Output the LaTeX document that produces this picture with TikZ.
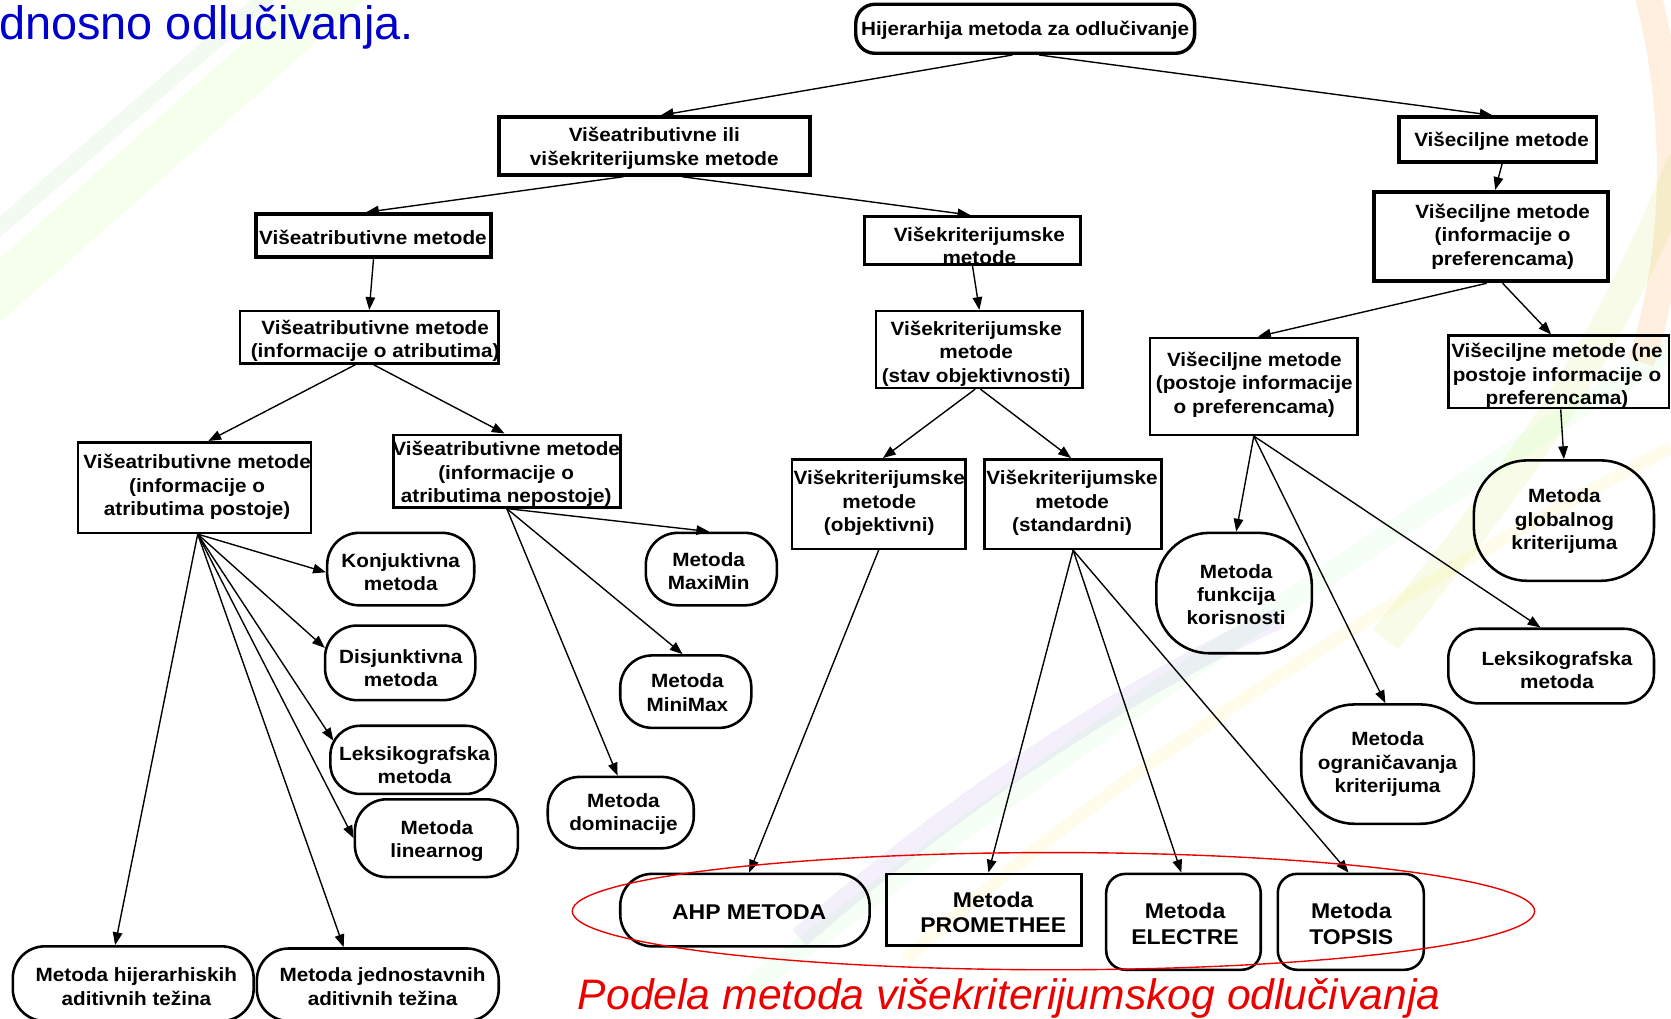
\documentclass[tikz,border=0pt]{standalone}
\usepackage{fontspec}
\setmainfont{Liberation Sans}
\newfontfamily\bfont[FakeStretch=1.08]{Liberation Sans Bold}
\usetikzlibrary{arrows.meta}
\definecolor{tblue}{RGB}{0,0,205}
\definecolor{tred}{RGB}{235,0,0}
\newcommand\mkbx[9]{\node[#1, minimum width=#5pt, minimum height=#6pt] (#2) at (#3,#4) {}; \node[lbl] (#2t) at (#7,#8) {#9};}
\begin{document}
\begin{tikzpicture}[x=1pt,y=-1pt,
 lbl/.style={font={\bfont\fontsize{18}{22}\selectfont}, align=center, inner sep=0pt},
 lblL/.style={font={\bfont\fontsize{20}{24}\selectfont}, align=center, inner sep=0pt},
 box/.style={draw, line width=2.4pt, inner sep=0pt},
 tbox/.style={draw, line width=3.6pt, inner sep=0pt},
 rbox/.style={draw, line width=2.4pt, inner sep=0pt, rounded corners=#1},
 arr/.style={-{Triangle[length=12pt,width=9pt]}, line width=1.3pt},
]
\useasboundingbox (0,0) rectangle (1568,956);
% background streaks
\begin{scope}
\clip (0,0) rectangle (1568,956);
\draw[line width=45pt, green!50!yellow, opacity=0.08] (-20,290) -- (330,-20);
\draw[line width=15pt, green!60!black, opacity=0.05] (-20,230) -- (270,-20);
\draw[line width=25pt, orange, opacity=0.13] (1545,-10) .. controls (1580,120) and (1570,250) .. (1540,340);
\draw[line width=30pt, yellow!70!green, opacity=0.10] (1580,150) .. controls (1500,350) and (1420,450) .. (1300,600);
\draw[line width=20pt, green!50, opacity=0.08] (1580,320) .. controls (1300,500) and (1000,700) .. (700,930);
\draw[line width=20pt, blue!50!violet, opacity=0.06] (1200,580) .. controls (1050,650) and (900,750) .. (750,880);
\draw[line width=12pt, yellow!80!orange, opacity=0.08] (1568,420) .. controls (1300,560) and (1050,720) .. (850,900);
\end{scope}

\node[anchor=base west, font=\fontsize{44}{50}\selectfont, text=tblue, inner sep=0pt] (hdr) at (-1,37) {dnosno odlučivanja.};

\mkbx{rbox=18pt, line width=3.2pt}{root}{962}{27}{318}{46}{962}{28}{Hijerarhija metoda za odlučivanje}
\mkbx{tbox}{mc}{614}{137}{292}{54}{614}{139}{Višeatributivne ili\\višekriterijumske metode}
\mkbx{tbox}{vc}{1405.5}{131}{185}{42}{1409}{133}{Višeciljne metode}
\mkbx{tbox}{va}{350.5}{221}{221}{40}{350}{223}{Višeatributivne metode}
\mkbx{box}{vk}{912.5}{225.5}{203}{45}{919}{231}{Višekriterijumske\\metode}
\mkbx{tbox}{vcpi}{1399}{222}{220}{84}{1410}{222}{Višeciljne metode\\(informacije o\\preferencama)}
\mkbx{box}{vai}{346.5}{316.5}{243}{49}{352}{320}{Višeatributivne metode\\(informacije o atributima)}
\mkbx{box}{vks}{919}{328}{194}{72}{916}{332}{Višekriterijumske\\metode\\(stav objektivnosti)}
\mkbx{box}{vcp}{1176.5}{362.5}{195}{91}{1177}{361}{Višeciljne metode\\(postoje informacije\\o preferencama)}
\mkbx{box}{vcn}{1462.5}{349}{207}{68}{1461}{353}{Višeciljne metode (ne\\postoje informacije o\\preferencama)}
\mkbx{box}{vap}{182.5}{457.5}{219}{85}{185}{457}{Višeatributivne metode\\(informacije o\\atributima postoje)}
\mkbx{box}{van}{475.5}{442}{213}{68}{475}{445}{Višeatributivne metode\\(informacije o\\atributima nepostoje)}
\mkbx{box}{vko}{824.5}{473}{163}{84}{825}{472}{Višekriterijumske\\metode\\(objektivni)}
\mkbx{box}{vkst}{1007}{473}{166}{84}{1006}{472}{Višekriterijumske\\metode\\(standardni)}

\mkbx{rbox=30pt}{konj}{376}{534}{138}{68}{376}{537}{Konjuktivna\\metoda}
\mkbx{rbox=30pt}{disj}{375.5}{622}{141}{70}{376}{627}{Disjunktivna\\metoda}
\mkbx{rbox=28pt}{leks1}{387.5}{713}{155}{64}{389}{718}{Leksikografska\\metoda}
\mkbx{rbox=30pt}{lin}{409.5}{786.5}{153}{73}{410}{789}{Metoda\\linearnog}
\mkbx{rbox=30pt}{hij}{125}{923}{226}{70}{128}{926}{Metoda hijerarhiskih\\aditivnih težina}
\mkbx{rbox=30pt}{jed}{354.5}{924}{227}{68}{359}{926}{Metoda jednostavnih\\aditivnih težina}
\mkbx{rbox=30pt}{maxi}{667.5}{534}{123}{68}{665}{536}{Metoda\\MaxiMin}
\mkbx{rbox=30pt}{mini}{643.5}{649}{123}{68}{645}{650}{Metoda\\MiniMax}
\mkbx{rbox=30pt}{dom}{582.5}{762.5}{137}{67}{585}{764}{Metoda\\dominacije}
\mkbx{rbox=50pt}{fk}{1158}{556.5}{146}{113}{1160}{558}{Metoda\\funkcija\\korisnosti}
\mkbx{rbox=50pt}{ogr}{1302}{717}{162}{112}{1302}{717}{Metoda\\ograničavanja\\kriterijuma}
\mkbx{rbox=50pt}{glob}{1467.5}{488.5}{169}{113}{1468}{489}{Metoda\\globalnog\\kriterijuma}
\mkbx{rbox=28pt}{leks2}{1455.5}{625}{193}{70}{1461}{629}{Leksikografska\\metoda}

\node[rbox=30pt, minimum width=234pt, minimum height=68pt] (ahp) at (699,854) {};
\node[lblL] (ahpt) at (703,856) {AHP METODA};
\node[box, minimum width=183pt, minimum height=67pt] (prom) at (923.5,853.5) {};
\node[lblL] (promt) at (932,856) {Metoda\\PROMETHEE};
\node[rbox=18pt, minimum width=145pt, minimum height=90pt] (elec) at (1110.5,865) {};
\node[lblL] (elect) at (1112,867) {Metoda\\ELECTRE};
\node[rbox=18pt, minimum width=137pt, minimum height=90pt] (tops) at (1267.5,865) {};
\node[lblL] (topst) at (1268,867) {Metoda\\TOPSIS};

% connectors
\draw[arr] ([xshift=-12pt]root.south) -- ([xshift=6pt]mc.north);
\draw[arr] ([xshift=13pt]root.south) -- ([xshift=-5pt]vc.north);
\draw[arr] ([xshift=-29pt]mc.south) -- ([xshift=-7pt]va.north);
\draw[arr] ([xshift=26pt]mc.south) -- ([xshift=-2pt]vk.north);
\draw[arr] (va.south) -- (vai.north);
\draw[arr] (vk.south) -- (vks.north);
\draw[arr] ([xshift=4pt]vc.south) -- ([xshift=4pt]vcpi.north);
\draw[arr] ([xshift=-4pt]vcpi.south) -- ([xshift=4pt]vcp.north);
\draw[arr] ([xshift=11pt]vcpi.south) -- ([xshift=-7pt]vcn.north);
\draw[arr] ([xshift=-13pt]vai.south) -- ([xshift=13pt]vap.north);
\draw[arr] ([xshift=4pt]vai.south) -- ([xshift=-2pt]van.north);
\draw[arr] ([xshift=-4pt]vks.south) -- ([xshift=4pt]vko.north);
\draw[arr] ([xshift=1pt]vks.south) -- ([xshift=-2pt]vkst.north);
\draw[arr] ([xshift=2pt]vcn.south) -- (glob.north);
\draw[arr] (vcp.south) -- ([xshift=2pt]fk.north);
\draw[arr] (vcp.south) -- ([xshift=-2pt]ogr.north);
\draw[arr] (vcp.south) -- ([xshift=-10pt]leks2.north);
\draw[arr] ([xshift=3pt]vap.south) -- ([yshift=-3pt]konj.west);
\draw[arr] ([xshift=3pt]vap.south) -- ([yshift=14pt,xshift=1pt]disj.west);
\draw[arr] ([xshift=3pt]vap.south) -- ([yshift=18pt,xshift=4pt]leks1.west);
\draw[arr] ([xshift=3pt]vap.south) -- (lin.west);
\draw[arr] ([xshift=3pt]vap.south) -- ([xshift=-17pt]hij.north);
\draw[arr] ([xshift=3pt]vap.south) -- ([xshift=-32pt]jed.north);
\draw[arr] (van.south) -- ([xshift=-2pt]maxi.north);
\draw[arr] (van.south) -- ([xshift=-3pt]mini.north);
\draw[arr] (van.south) -- ([xshift=-3pt]dom.north);
\draw[arr] (vko.south) -- ([xshift=4pt]ahp.north);
\draw[arr] (vkst.south) -- ([xshift=4pt]prom.north);
\draw[arr] (vkst.south) -- ([xshift=-2pt]elec.north);
\draw[arr] (vkst.south) -- ([xshift=-2pt]tops.north);

% red ellipse and caption
\draw[tred, line width=1.3pt] (988.5,855) ellipse [x radius=451.5pt, y radius=55pt];
\node[anchor=base, font=\fontsize{40}{44}\selectfont\itshape, text=tred, inner sep=0pt] (cap) at (947,947) {Podela metoda višekriterijumskog odlučivanja};
\end{tikzpicture}
\end{document}
